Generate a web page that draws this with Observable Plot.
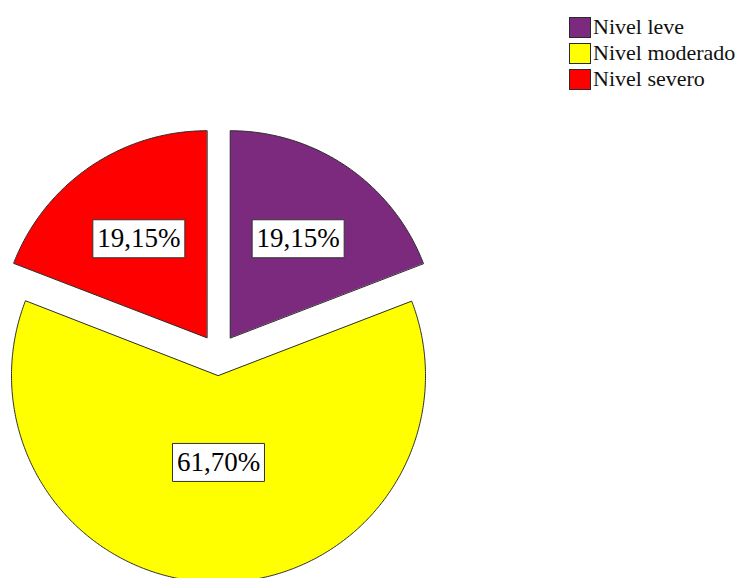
<!DOCTYPE html>
<html>
<head>
<meta charset="utf-8">
<script src="https://cdn.jsdelivr.net/npm/d3@7"></script>
<script src="https://cdn.jsdelivr.net/npm/@observablehq/plot@0.6"></script>
<style>
  html, body { margin: 0; padding: 0; background: #fff; }
  #wrap { position: relative; width: 745px; height: 578px; overflow: hidden; }
  #legend { position: absolute; left: 569px; top: 14px; font-family: 'Liberation Serif', 'Noto Serif', 'DejaVu Serif', FreeSerif, 'Nimbus Roman', serif; font-size: 22px; color: #111; }
  .row { display: flex; align-items: center; height: 26px; }
  .sw { width: 20px; height: 19px; border: 1.5px solid #2a2a2a; margin-right: 2px; box-sizing: content-box; }
  .lbl { line-height: 22px; }
  svg text { font-family: 'Liberation Serif', 'Noto Serif', 'DejaVu Serif', FreeSerif, 'Nimbus Roman', serif !important; }
</style>
</head>
<body>
<div id="wrap"></div>
<script>
// ---- data ----
const categories = ["Nivel leve", "Nivel moderado", "Nivel severo"];
const percentages = [19.15, 61.70, 19.15];
const labels = ["19,15%", "61,70%", "19,15%"];
const colors = ["#7b2a7e", "#ffff00", "#ff0000"];

// ---- geometry (unit circle, angles clockwise from north) ----
const W = 745, H = 578;
const R = 207, cx = 218, cy = 354.3;   // pixel scale of radius and centre
const explode = 0.1;

const total = d3.sum(percentages);
let acc = 0;
const slices = categories.map((cat, i) => {
  const a0 = acc / total * 2 * Math.PI;
  acc += percentages[i];
  const a1 = acc / total * 2 * Math.PI;
  const m = (a0 + a1) / 2;
  const ox = explode * Math.sin(m), oy = explode * Math.cos(m);
  const pts = [{x: ox, y: oy}];
  const n = Math.max(2, Math.ceil((a1 - a0) / (Math.PI / 360)));
  for (let k = 0; k <= n; k++) {
    const a = a0 + (a1 - a0) * k / n;
    pts.push({x: ox + Math.sin(a), y: oy + Math.cos(a)});
  }
  const share = percentages[i] / total;
  const lr = share > 0.5 ? 0.42 : 0.58;
  return {cat, color: colors[i], pts, label: labels[i],
          lx: ox + lr * Math.sin(m), ly: oy + lr * Math.cos(m)};
});

const boxSymbol = { draw(ctx) { ctx.rect(-46, -19, 92, 38); } };

const marks = [];
for (const s of slices) {
  marks.push(Plot.line(s.pts, {x: "x", y: "y", fill: s.color, stroke: "#2b2b2b", strokeWidth: 1, curve: "linear-closed"}));
}
marks.push(Plot.dot(slices, {x: "lx", y: "ly", symbol: boxSymbol, fill: "white", stroke: "#333", strokeWidth: 1}));
marks.push(Plot.text(slices, {x: "lx", y: "ly", text: "label", fontSize: 27, fill: "#000"}));

const chart = Plot.plot({
  width: W, height: H,
  marginTop: 0, marginRight: 0, marginBottom: 0, marginLeft: 0,
  x: {domain: [-cx / R, (W - cx) / R], axis: null},
  y: {domain: [-(H - cy) / R, cy / R], axis: null},
  style: {background: "#fff"},
  marks
});
const wrap = document.getElementById("wrap");
wrap.appendChild(chart);

// ---- legend ----
const legend = document.createElement("div");
legend.id = "legend";
categories.forEach((c, i) => {
  const row = document.createElement("div");
  row.className = "row";
  const sw = document.createElement("div");
  sw.className = "sw";
  sw.style.background = colors[i];
  const t = document.createElement("span");
  t.className = "lbl";
  t.textContent = c;
  row.appendChild(sw); row.appendChild(t);
  legend.appendChild(row);
});
wrap.appendChild(legend);
</script>
</body>
</html>
